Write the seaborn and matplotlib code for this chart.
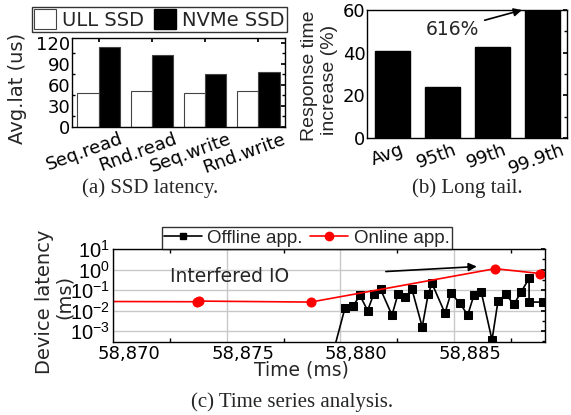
import numpy as np
import pandas as pd
import matplotlib
matplotlib.use("Agg")
import matplotlib.pyplot as plt
import matplotlib.transforms as mtransforms
from matplotlib.ticker import FuncFormatter, MultipleLocator, LogLocator, NullFormatter, FixedLocator
from matplotlib.lines import Line2D
from matplotlib.patches import Patch
import seaborn as sns

# ---------------- data ----------------
ops = ["Seq.read", "Rnd.read", "Seq.write", "Rnd.write"]
ull_lat = [48, 52, 48, 51]
nvme_lat = [114, 103, 76, 78]

tail_cats = ["Avg", "95th", "99th", "99.9th"]
tail_vals = [40.8, 24, 42.7, 616]

online_t = [58868.0, 58873.7, 58873.8, 58878.7, 58886.8, 58888.78]
online_lat = [0.028, 0.027, 0.029, 0.026, 1.1, 0.64]

offline_t = [58879.45, 58880.2, 58880.55, 58880.86, 58881.2, 58881.46, 58881.77,
             58882.27, 58882.53, 58882.84, 58883.15, 58883.6, 58883.86, 58884.03,
             58884.6, 58884.86, 58885.26, 58885.6, 58885.87, 58886.2, 58886.67,
             58886.93, 58887.28, 58887.63, 58887.94, 58888.3, 58888.3, 58888.9]
offline_lat = [0.00001, 0.013, 0.016, 0.055, 0.010, 0.062, 0.108,
               0.006, 0.062, 0.044, 0.108, 0.0016, 0.062, 0.21,
               0.0075, 0.069, 0.023, 0.006, 0.055, 0.077, 0.00037,
               0.028, 0.062, 0.020, 0.077, 0.37, 0.026, 0.026]

# ---------------- style ----------------
sns.set_theme(style="white")
plt.rcParams["font.family"] = ["DejaVu Sans"]
plt.rcParams["mathtext.default"] = "regular"
plt.rcParams["axes.edgecolor"] = "black"
plt.rcParams["axes.linewidth"] = 1.0
plt.rcParams["xtick.color"] = "black"
plt.rcParams["ytick.color"] = "black"

W, H = 571, 415
fig = plt.figure(figsize=(W / 100, H / 100), dpi=100)

def px_axes(l, t, r, b):
    return fig.add_axes([l / W, 1 - b / H, (r - l) / W, (b - t) / H])

def shift_labels(labels, dx_px, dy_px=0):
    for lab in labels:
        lab.set_transform(lab.get_transform() +
                          mtransforms.ScaledTranslation(dx_px / 100, dy_px / 100, fig.dpi_scale_trans))

SERIF = "Liberation Serif"
CAP = 15

# ---------------- (a) ----------------
axa = px_axes(72, 38, 285, 127)
df_a = pd.DataFrame({
    "op": ops * 2,
    "lat": ull_lat + nvme_lat,
    "dev": ["ULL SSD"] * 4 + ["NVMe SSD"] * 4,
})
sns.barplot(data=df_a, x="op", y="lat", hue="dev", ax=axa,
            palette={"ULL SSD": "white", "NVMe SSD": "black"},
            edgecolor="#444444", linewidth=0.8, width=0.8, legend=False, saturation=1)
axa.set_ylim(0, 127)
axa.set_xlim(-0.5, 3.5)
axa.yaxis.set_major_locator(MultipleLocator(30))
axa.yaxis.set_minor_locator(MultipleLocator(15))
axa.set_xlabel("")
axa.set_ylabel("")
axa.tick_params(axis="y", labelsize=13, direction="in", length=3, pad=1, right=True)
axa.tick_params(axis="y", which="minor", direction="in", length=2, right=True, left=True)
axa.tick_params(axis="x", labelsize=13, direction="in", length=3, pad=2, top=True)
for lab in axa.get_xticklabels():
    lab.set_rotation(20)
    lab.set_ha("center")
shift_labels(axa.get_xticklabels(), -14)
fig.text(18 / W, 1 - 88 / H, "Avg.lat (us)", rotation=90, ha="center", va="center", fontsize=14)
handles = [Patch(facecolor="white", edgecolor="#444444", linewidth=0.8, label="ULL SSD"),
           Patch(facecolor="black", edgecolor="black", label="NVMe SSD")]
fig.legend(handles=handles, loc="upper right", bbox_to_anchor=(287 / W, 1 - 7 / H),
           ncol=2, fontsize=14, frameon=True, fancybox=False, edgecolor="black",
           handlelength=1.15, handleheight=1.15, handletextpad=0.3, columnspacing=0.5,
           borderpad=0.12, borderaxespad=0)
fig.text(150 / W, 1 - 188 / H, "(a) SSD latency.", ha="center", va="center",
         fontsize=CAP, family=SERIF)

# ---------------- (b) ----------------
axb = px_axes(367, 10, 567, 138)
df_b = pd.DataFrame({"cat": tail_cats, "val": tail_vals})
sns.barplot(data=df_b, x="cat", y="val", ax=axb, color="black", edgecolor="black",
            width=0.7, saturation=1)
axb.set_ylim(0, 60)
axb.set_xlim(-0.5, 3.5)
axb.yaxis.set_major_locator(MultipleLocator(20))
axb.yaxis.set_minor_locator(MultipleLocator(10))
axb.set_xlabel("")
axb.set_ylabel("")
axb.tick_params(axis="y", labelsize=13, direction="in", length=3, pad=1, right=True)
axb.tick_params(axis="y", which="minor", direction="in", length=2, right=True, left=False)
axb.tick_params(axis="x", labelsize=13, length=0, pad=2)
for lab in axb.get_xticklabels():
    lab.set_rotation(20)
    lab.set_ha("center")
shift_labels(axb.get_xticklabels(), -5)
fig.text(309 / W, 1 - 76 / H, "Response time", rotation=90, ha="center", va="center",
         fontsize=14, family="Liberation Sans")
fig.text(330 / W, 1 - 80 / H, "increase (%)", rotation=90, ha="center", va="center",
         fontsize=14, family="Liberation Sans")
axb.annotate(f"{tail_vals[3]:.0f}%", xy=(2.6, 60), xytext=(1.2, 51),
             ha="center", va="center", fontsize=13.5,
             arrowprops=dict(arrowstyle="-|>", color="black", lw=1.2, shrinkA=2, shrinkB=0,
                             mutation_scale=12),
             annotation_clip=False)
fig.text(467 / W, 1 - 188 / H, "(b) Long tail.", ha="center", va="center",
         fontsize=CAP, family=SERIF)

# ---------------- (c) ----------------
axc = px_axes(113, 249, 545, 342)
sns.lineplot(x=offline_t, y=offline_lat, ax=axc, estimator=None, sort=False,
             color="black", marker="s", markersize=5.5, markeredgecolor="black",
             linewidth=1.2, label="Offline app.")
sns.lineplot(x=online_t, y=online_lat, ax=axc, estimator=None, sort=False,
             color="red", marker="o", markersize=6.5, markeredgecolor="red",
             linewidth=1.2, label="Online app.")
axc.set_yscale("log")
axc.set_ylim(10 ** -3.53, 10)
axc.set_xlim(58870, 58889)
axc.set_xticks([58870, 58875, 58880, 58885])
axc.xaxis.set_minor_locator(FixedLocator([58872.5, 58877.5, 58882.5, 58887.5]))
axc.xaxis.set_major_formatter(FuncFormatter(lambda v, p: f"{v:,.0f}"))
axc.yaxis.set_major_locator(LogLocator(base=10, numticks=10))
axc.yaxis.set_major_formatter(FuncFormatter(
    lambda v, p: r"$\mathregular{10^{%d}}$" % int(round(np.log10(v))) if v > 0 else ""))
axc.yaxis.set_minor_locator(LogLocator(base=10, subs=[3.16], numticks=10))
axc.yaxis.set_minor_formatter(NullFormatter())
axc.grid(True, which="major", color="#c8c8c8", linewidth=1.0)
axc.set_axisbelow(True)
axc.set_xlabel("")
axc.set_ylabel("")
axc.tick_params(axis="x", labelsize=13, direction="in", length=0, pad=2)
axc.tick_params(axis="x", which="minor", direction="in", length=3, top=True, bottom=True)
axc.tick_params(axis="y", labelsize=14.5, direction="in", length=3, pad=2, right=True)
axc.tick_params(axis="y", which="minor", direction="in", length=2, right=True, left=False)
for lab in axc.get_yticklabels():
    lab.set_family("Liberation Sans")
shift_labels(axc.get_xticklabels(), 16)
axc.legend_.remove()
leg_handles = [Line2D([], [], color="black", marker="s", markersize=5, lw=1.2, label="Offline app."),
               Line2D([], [], color="red", marker="o", markersize=6, lw=1.2, label="Online app.")]
fig.legend(handles=leg_handles, loc="lower left", bbox_to_anchor=(162 / W, 1 - 249 / H),
           ncol=2, prop={"family": "Liberation Sans", "size": 13.5},
           frameon=True, fancybox=False, edgecolor="black",
           handlelength=2.0, handletextpad=0.3, columnspacing=0.4,
           borderpad=0.12, borderaxespad=0)
axc.annotate("", xy=(58886.0, 1.4), xytext=(58882.0, 0.8),
             arrowprops=dict(arrowstyle="-|>", color="black", lw=1.2, shrinkA=0, shrinkB=0,
                             mutation_scale=12))
axc.text(58872.5, 0.45, "Interfered IO", fontsize=13.5, ha="left", va="center")
fig.text(44 / W, 1 - 302 / H, "Device latency", rotation=90, ha="center", va="center", fontsize=14)
fig.text(64 / W, 1 - 297 / H, "(ms)", rotation=90, ha="center", va="center", fontsize=14)
fig.text(301 / W, 1 - 370 / H, "Time (ms)", ha="center", va="center", fontsize=13.5)
fig.text(292 / W, 1 - 402 / H, "(c) Time series analysis.", ha="center", va="center",
         fontsize=CAP, family=SERIF)

fig.savefig("out.png", dpi=100)
